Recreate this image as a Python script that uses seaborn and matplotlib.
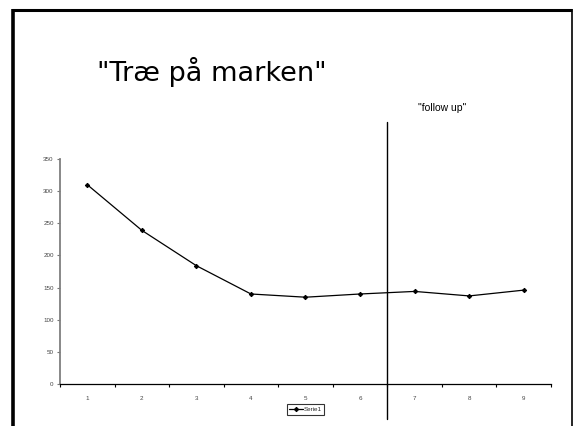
import pandas as pd
import numpy as np
import matplotlib.pyplot as plt
import seaborn as sns
from matplotlib.lines import Line2D

# values
categories = [1, 2, 3, 4, 5, 6, 7, 8, 9]
serie1 = [310, 239, 184, 140, 135, 140, 144, 137, 146]
yticks = [0, 50, 100, 150, 200, 250, 300, 350]
title = '"Træ på marken"'
note = '"follow up"'

df = pd.DataFrame({"x": categories, "Serie1": serie1})

sns.set_style("white")
plt.rcParams['font.family'] = ['Liberation Sans', 'DejaVu Sans']

fig = plt.figure(figsize=(5.73, 4.26), dpi=100)
ax = fig.add_axes([0.1047, 0.0986, 0.8569, 0.5282])

sns.lineplot(data=df, x="x", y="Serie1", ax=ax, color="black", lw=0.9,
             marker="D", markersize=2.2, markeredgecolor="black", label="Serie1")

ax.set_xlim(0.5, 9.5)
ax.set_ylim(0, 350)
ax.set_yticks(yticks)
ax.set_yticklabels([str(v) for v in yticks], fontsize=4.5, color="#444444")
ax.set_xticks(np.arange(0.5, 10, 1))
ax.set_xticklabels([])
ax.set_xticks(categories, minor=True)
ax.set_xticklabels([str(c) for c in categories], minor=True, fontsize=4.5, color="#444444")
ax.tick_params(axis="x", which="major", bottom=True, direction="out", length=2.5,
               width=0.8, color="black")
ax.tick_params(axis="x", which="minor", bottom=True, length=0, pad=9)
ax.tick_params(axis="y", left=True, direction="out", length=2.5, width=0.8,
               color="#777777", pad=2)
ax.set_xlabel("")
ax.set_ylabel("")
for s in ["top", "right"]:
    ax.spines[s].set_visible(False)
ax.spines["left"].set_color("#7f7f7f")
ax.spines["left"].set_linewidth(1.3)
ax.spines["bottom"].set_color("black")
ax.spines["bottom"].set_linewidth(0.9)

# follow up divider
ax.axvline(6.5, ymin=-0.156, ymax=1.164, color="black", lw=1.0, clip_on=False)

leg = ax.legend(loc="upper center", bbox_to_anchor=(0.5, -0.09), fontsize=4.5,
                frameon=True, fancybox=False, handlelength=2.2, borderpad=0.4,
                handletextpad=0.1, borderaxespad=0)
leg.get_frame().set_edgecolor("black")
leg.get_frame().set_linewidth(0.8)

fig.text(97 / 573, 1 - 72 / 426, title, fontsize=19.5, va="center", ha="left",
         family=["DejaVu Sans"], color="black")
fig.text(418 / 573, 1 - 108 / 426, note, fontsize=7.5, va="center", ha="left", color="black")

# slide border
fig.add_artist(Line2D([13 / 573, 13 / 573], [0, 1 - 9 / 426], color="black", lw=2.6,
                      solid_capstyle="butt"))
fig.add_artist(Line2D([11.5 / 573, 572 / 573], [1 - 10 / 426, 1 - 10 / 426], color="black",
                      lw=2.2, solid_capstyle="butt"))
fig.add_artist(Line2D([571.5 / 573, 571.5 / 573], [0, 1 - 9 / 426], color="black", lw=1.2,
                      solid_capstyle="butt"))

fig.savefig("out.png", dpi=100)
